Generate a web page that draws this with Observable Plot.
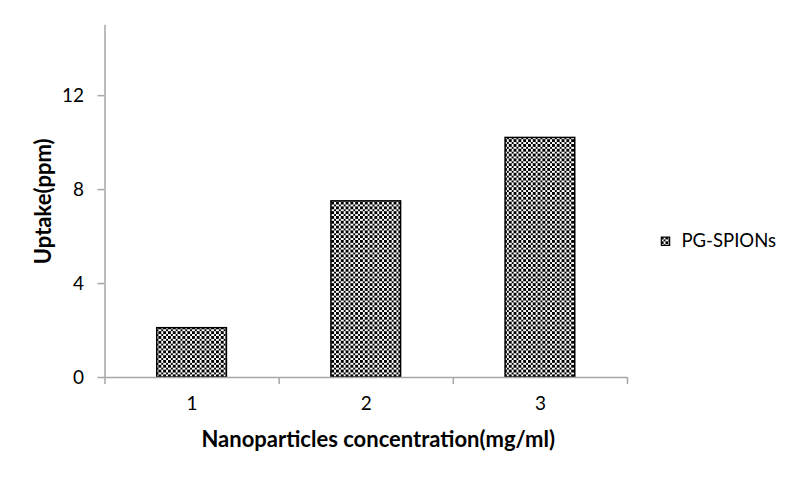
<!DOCTYPE html>
<html>
<head>
<meta charset="utf-8">
<script src="https://cdn.jsdelivr.net/npm/d3@7"></script>
<script src="https://cdn.jsdelivr.net/npm/@observablehq/plot@0.6"></script>
<style>
  html, body { margin: 0; padding: 0; background: #fff; }
</style>
</head>
<body>
<div id="chart"></div>
<script>
const categories = [1, 2, 3];
const uptake = [2.1, 7.5, 10.2];
const yTicks = [0, 4, 8, 12];
const seriesName = "PG-SPIONs";
const xTitle = "Nanoparticles concentration(mg/ml)";
const yTitle = "Uptake(ppm)";

const data = categories.map((c, i) => ({c, v: uptake[i]}));
const boundaries = [0.5, ...categories.map(c => c + 0.5)];
const axisGray = "#a6a6a6";

const chart = Plot.plot({
  width: 800,
  height: 480,
  marginLeft: 104.5,
  marginRight: 173,
  marginTop: 24.7,
  marginBottom: 103,
  style: {fontFamily: "Lato, 'Open Sans', sans-serif", fontSize: "19px", color: "black", background: "white"},
  x: {domain: [0.5, categories.length + 0.5]},
  y: {domain: [0, 15]},
  marks: [
    Plot.rect(data, {
      x1: d => d.c - 0.2, x2: d => d.c + 0.2, y1: 0, y2: "v",
      fill: "url(#checker)", stroke: "black", strokeWidth: 1.5
    }),
    Plot.ruleY([0], {stroke: axisGray, strokeWidth: 1.5}),
    Plot.ruleX([0.5], {stroke: axisGray, strokeWidth: 1.5}),
    Plot.axisY({ticks: yTicks, tickSize: 7, tickPadding: 14, stroke: axisGray, strokeWidth: 1.5, label: null, fill: "black", fontSize: 19, tickFormat: d3.format("d")}),
    Plot.axisX({ticks: boundaries, tickSize: 7, tickFormat: () => "", stroke: axisGray, strokeWidth: 1.5, label: null}),
    Plot.axisX({ticks: categories, tickSize: 0, tickPadding: 19, label: null, fill: "black", fontSize: 19, tickFormat: d3.format("d")}),
    Plot.text([xTitle], {frameAnchor: "bottom", dx: 12, dy: 62, text: d => d, textAnchor: "middle", lineAnchor: "middle", fontWeight: "bold", fontSize: 22, fill: "black"}),
    Plot.text([yTitle], {frameAnchor: "left", dx: -61.5, dy: 0, rotate: -90, text: d => d, textAnchor: "middle", lineAnchor: "middle", fontWeight: "bold", fontSize: 22, fill: "black"}),
    Plot.dot([seriesName], {frameAnchor: "right", dx: 38, dy: 40, symbol: "square", r: 4.7, fill: "url(#checker)", stroke: "black", strokeWidth: 1.2}),
    Plot.text([seriesName], {frameAnchor: "right", dx: 54, dy: 40, text: d => d, textAnchor: "start", lineAnchor: "middle", fontSize: 18.5, fill: "black"})
  ]
});

const svgNS = "http://www.w3.org/2000/svg";
const defs = document.createElementNS(svgNS, "defs");
defs.innerHTML = `<pattern id="checker" width="4.8" height="4.8" patternUnits="userSpaceOnUse">
  <rect width="4.8" height="4.8" fill="white"/>
  <rect width="2.4" height="2.4" fill="black" shape-rendering="crispEdges"/>
  <rect x="2.4" y="2.4" width="2.4" height="2.4" fill="black" shape-rendering="crispEdges"/>
</pattern>`;
chart.insertBefore(defs, chart.firstChild);
document.getElementById("chart").appendChild(chart);
</script>
</body>
</html>
